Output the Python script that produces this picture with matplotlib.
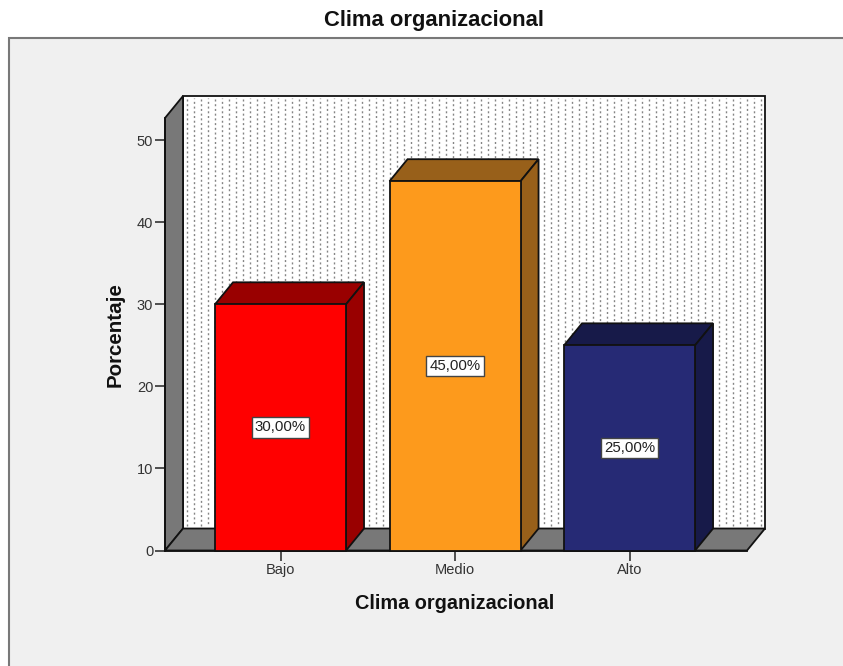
#!/usr/bin/env python3
"""Clima organizacional: SPSS style 3D bar chart."""

import numpy as np
import matplotlib
matplotlib.use('Agg')
import matplotlib.pyplot as plt
from matplotlib.patches import Polygon, Rectangle

plt.rcParams['font.family'] = ['Liberation Sans', 'DejaVu Sans']

categories = ['Bajo', 'Medio', 'Alto']
values = [30.0, 45.0, 25.0]
value_labels = ['30,00%', '45,00%', '25,00%']
y_ticks = [0, 10, 20, 30, 40, 50]
front_colors = ['#ff0000', '#fd9a1c', '#262a75']
top_colors = ['#990000', '#98601a', '#171a49']
side_colors = ['#990000', '#98601a', '#171a49']

W, H = 843, 666
fig = plt.figure(figsize=(W / 100, H / 100), dpi=100, facecolor='white')


def fig_axes(left, top, right, bottom):
    return fig.add_axes([left / W, 1 - bottom / H, (right - left) / W, (bottom - top) / H])


# ── Panel background ──
bg = fig_axes(0, 0, W, H)
bg.set_xlim(0, W); bg.set_ylim(H, 0); bg.axis('off')
bg.add_patch(Rectangle((8.5, 37.5), W, H, fc='#f0f0f0', ec='#787878', lw=1.5))

# ── Plot ──
ax = fig_axes(165, 118, 747, 550.5)
ax.set_xlim(-0.662, 2.673)
ax.set_ylim(0, 52.7)
ax.patch.set_visible(False)
for side in ['top', 'right']:
    ax.spines[side].set_visible(False)
for side in ['left', 'bottom']:
    ax.spines[side].set_linewidth(1.3)
    ax.spines[side].set_color('#111111')

x0, x1 = ax.get_xlim()
y0, y1 = ax.get_ylim()
dx = 18 / 174.5
dy = 22 / 8.21
edge = '#111111'


def poly(pts, fc, z=2, lw=1.3):
    ax.add_patch(Polygon(pts, closed=True, fc=fc, ec=edge, lw=lw, zorder=z,
                         clip_on=False, joinstyle='miter'))


# back wall with dotted columns, every other column shifted half a dash
poly([(x0 + dx, y0 + dy), (x1 + dx, y0 + dy), (x1 + dx, y1 + dy), (x0 + dx, y1 + dy)], 'white', z=1)
col_x = np.arange(x0 + dx + 4 / 174.5, x1 + dx - 1 / 174.5, 7.0 / 174.5)
ax.vlines(col_x[::2], y0 + dy + 0.3, y1 + dy - 0.3, color='#858585', lw=1.0,
          linestyles=[(0, (1.45, 1.95))], zorder=1.5, clip_on=False)
ax.vlines(col_x[1::2], y0 + dy + 0.3, y1 + dy - 0.3, color='#858585', lw=1.0,
          linestyles=[(1.7, (1.45, 1.95))], zorder=1.5, clip_on=False)
# side wall and floor
poly([(x0, y0), (x0 + dx, y0 + dy), (x0 + dx, y1 + dy), (x0, y1)], '#787878', z=2)
poly([(x0, y0), (x1, y0), (x1 + dx, y0 + dy), (x0 + dx, y0 + dy)], '#787878', z=2)

# ── Bars ──
bar_w = 131 / 174.5
for i, (v, fc, tc, sc, lab) in enumerate(zip(values, front_colors, top_colors, side_colors, value_labels)):
    l, r = i - bar_w / 2, i + bar_w / 2
    poly([(l, v), (r, v), (r + dx, v + dy), (l + dx, v + dy)], tc, z=3)
    poly([(r, 0), (r + dx, dy), (r + dx, v + dy), (r, v)], sc, z=3)
    ax.bar(i, v, width=bar_w, color=fc, edgecolor=edge, lw=1.3, zorder=4, clip_on=False)
    ax.text(i, v / 2, lab, ha='center', va='center', fontsize=10.8, color='#222222', zorder=5,
            bbox=dict(boxstyle='square,pad=0.22', fc='white', ec='#444444', lw=1.0))

ax.set_xticks(range(len(categories)))
ax.set_xticklabels(categories)
ax.set_yticks(y_ticks)
ax.tick_params(axis='x', labelsize=10.5, length=7, width=1.1, color='#222222',
               labelcolor='#333333', pad=2)
ax.tick_params(axis='y', labelsize=10.5, length=7, width=1.1, color='#222222',
               labelcolor='#333333', pad=1.5)
ax.set_xlabel('Clima organizacional', fontsize=14.3, fontweight='bold', labelpad=12, color='#111111')
ax.set_ylabel('Porcentaje', fontsize=14.8, fontweight='bold', labelpad=8.5, color='#111111')
ax.xaxis.label.set_x((455 - 165) / (747 - 165))
ax.yaxis.label.set_y((550.5 - 335) / (550.5 - 118))

fig.text(434 / W, 1 - 20.5 / H, 'Clima organizacional', ha='center', va='center',
         fontsize=15.8, fontweight='bold', color='#111111')

fig.savefig('out.png', dpi=100)
plt.close(fig)
